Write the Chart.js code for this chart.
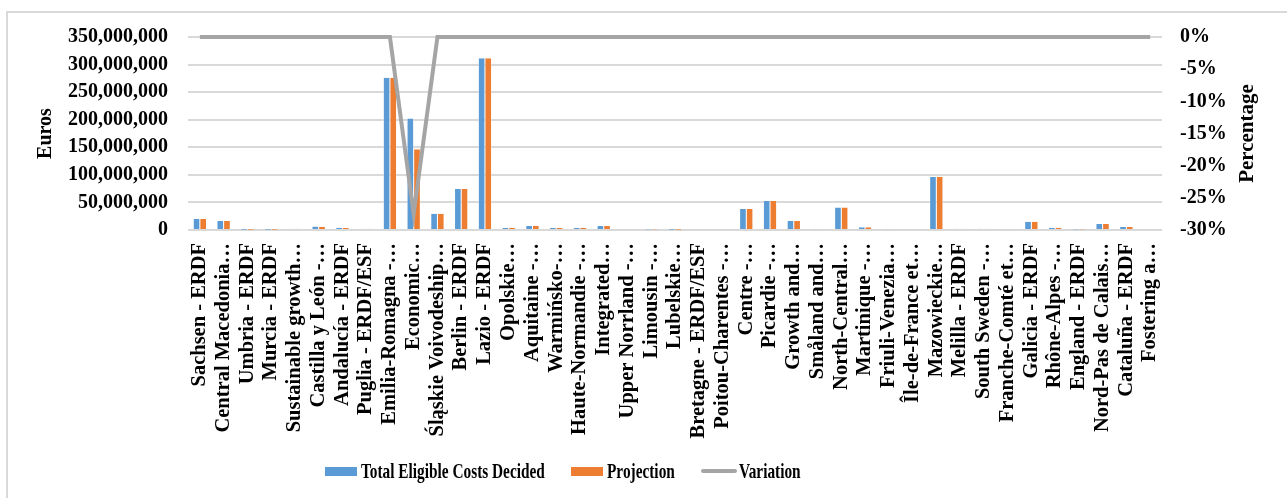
<!DOCTYPE html>
<html>
<head>
<meta charset="utf-8">
<title>Total Eligible Costs Decided vs Projection</title>
<script src="https://cdn.jsdelivr.net/npm/chart.js@4"></script>
<style>
  html, body { margin: 0; padding: 0; background: #fff; }
  #wrap { position: relative; width: 1287px; height: 498px; overflow: hidden; }
  #frame { position: absolute; left: 6px; top: 11px; width: 1300px; height: 520px; border: 2px solid #d9d9d9; box-sizing: border-box; }
  #box { position: absolute; left: 0; top: 0; width: 1287px; height: 498px; }
  #legend { position: absolute; left: 325px; top: 458px; height: 26px; display: flex; align-items: center;
            font-family: 'Liberation Serif', 'Times New Roman', serif; font-weight: bold; font-size: 21px; color: #000; }
  #legend .item { display: flex; align-items: center; margin-right: 26px; }
  #legend .swatch { width: 32px; height: 9px; margin-right: 4px; }
  #legend .swatch.line { width: 36px; height: 4px; border-radius: 2px; margin-right: 2px; }
  #legend .txt { display: inline-block; transform: scaleX(0.73); transform-origin: left center; white-space: nowrap; }
</style>
</head>
<body>
<div id="wrap">
  <div id="frame"></div>
  <div id="box"><canvas id="chartCanvas"></canvas></div>
  <div id="legend"></div>
</div>
<script>
// Operational programmes (labels as shown, truncated in the source chart)
const programmes = [
  "Sachsen - ERDF", "Central Macedonia\u2026", "Umbria - ERDF", "Murcia - ERDF",
  "Sustainable growth\u2026", "Castilla y León -\u2026", "Andalucía - ERDF", "Puglia - ERDF/ESF",
  "Emilia-Romagna -\u2026", "Economic\u2026", "Śląskie Voivodeship\u2026", "Berlin - ERDF",
  "Lazio - ERDF", "Opolskie\u2026", "Aquitaine -\u2026", "Warmińsko-\u2026",
  "Haute-Normandie -\u2026", "Integrated\u2026", "Upper Norrland -\u2026", "Limousin -\u2026",
  "Lubelskie\u2026", "Bretagne - ERDF/ESF", "Poitou-Charentes -\u2026", "Centre -\u2026",
  "Picardie -\u2026", "Growth and\u2026", "Småland and\u2026", "North-Central\u2026",
  "Martinique -\u2026", "Friuli-Venezia\u2026", "Île-de-France et\u2026", "Mazowieckie\u2026",
  "Melilla - ERDF", "South Sweden -\u2026", "Franche-Comté et\u2026", "Galicia - ERDF",
  "Rhône-Alpes -\u2026", "England - ERDF", "Nord-Pas de Calais\u2026", "Cataluña - ERDF",
  "Fostering a\u2026"
];

// Euros
const totalEligible = [
  20000000, 16500000, 300000, 600000, 2400000, 6500000, 3600000, 2400000,
  276000000, 202000000, 29600000, 74500000, 311500000, 3600000, 7200000, 3600000,
  3600000, 7200000, 0, 1000000, 500000, 0, 0, 38000000,
  52500000, 16300000, 1500000, 41000000, 4800000, 1500000, 0, 96000000,
  2400000, 2400000, 1500000, 15000000, 4000000, 1000000, 11000000, 5400000,
  0
];
const projection = [
  20000000, 16500000, 300000, 600000, 2400000, 6000000, 3600000, 2400000,
  276000000, 146500000, 29600000, 74500000, 311500000, 4000000, 7800000, 3600000,
  4000000, 7200000, 0, 1000000, 500000, 0, 0, 38000000,
  52500000, 16300000, 1500000, 41000000, 4800000, 1500000, 0, 96000000,
  2400000, 2400000, 1500000, 15000000, 4000000, 1000000, 11000000, 5400000,
  0
];
// Percentage change between the two
const variation = [
  0, 0, 0, 0, 0, 0, 0, 0, 0, -27.5, 0, 0, 0, 0, 0, 0, 0, 0, 0, 0, 0,
  0, 0, 0, 0, 0, 0, 0, 0, 0, 0, 0, 0, 0, 0, 0, 0, 0, 0, 0, 0
];

const BLUE = "#5B9BD5", ORANGE = "#ED7D31", GREY = "#A5A5A5", GRID = "#D9D9D9";
const FONT = "'Liberation Serif', 'Times New Roman', serif";

// right-hand axis title, reading bottom to top like the left one
const rightTitle = {
  id: "rightTitle",
  afterDraw(c) {
    const s = c.scales.yPct, ctx = c.ctx;
    ctx.save();
    ctx.translate(s.left + 86, (s.top + s.bottom) / 2);
    ctx.rotate(-Math.PI / 2);
    ctx.font = "bold 21px " + FONT;
    ctx.fillStyle = "#000";
    ctx.textAlign = "center";
    ctx.textBaseline = "middle";
    ctx.fillText("Percentage", 0, 0);
    ctx.restore();
  }
};

const chart = new Chart(document.getElementById("chartCanvas"), {
  data: {
    labels: programmes,
    datasets: [
      {
        type: "line", label: "Variation", data: variation, yAxisID: "yPct",
        borderColor: GREY, backgroundColor: GREY, borderWidth: 4,
        pointRadius: 0, tension: 0, clip: false, order: 0
      },
      {
        type: "bar", label: "Total Eligible Costs Decided", data: totalEligible, yAxisID: "y",
        backgroundColor: BLUE, borderColor: "#ffffff", borderWidth: { left: 0.5, right: 0.5 },
        barPercentage: 1, categoryPercentage: 0.56, order: 1
      },
      {
        type: "bar", label: "Projection", data: projection, yAxisID: "y",
        backgroundColor: ORANGE, borderColor: "#ffffff", borderWidth: { left: 0.5, right: 0.5 },
        barPercentage: 1, categoryPercentage: 0.56, order: 2
      }
    ]
  },
  options: {
    responsive: true,
    maintainAspectRatio: false,
    animation: false,
    layout: { padding: { top: 37, left: 34, right: 8, bottom: 40 } },
    scales: {
      x: {
        grid: { display: false },
        border: { display: false },
        ticks: {
          autoSkip: false, minRotation: 90, maxRotation: 90, padding: 5,
          color: "#000", font: { family: FONT, size: 20.5, weight: "bold" }
        },
        afterFit: s => { s.height = 228; }
      },
      y: {
        position: "left", min: 0, max: 350000000,
        ticks: {
          stepSize: 50000000, color: "#000", padding: 20,
          font: { family: FONT, size: 20, weight: "bold" },
          callback: v => v.toLocaleString("en-US")
        },
        grid: { color: GRID, lineWidth: 2, tickLength: 0 },
        border: { display: false },
        title: { display: true, text: "Euros", color: "#000", padding: 0,
                 font: { family: FONT, size: 20, weight: "bold" } },
        afterFit: s => { s.width = 154; }
      },
      yPct: {
        position: "right", min: -30, max: 0,
        ticks: {
          stepSize: 5, color: "#000", padding: 18,
          font: { family: FONT, size: 20, weight: "bold" },
          callback: v => v + "%"
        },
        grid: { drawOnChartArea: false, drawTicks: false, tickLength: 0 },
        border: { display: false },
        afterFit: s => { s.width = 117; }
      }
    },
    plugins: {
      legend: { display: false },
      tooltip: { enabled: false }
    }
  },
  plugins: [rightTitle]
});

// HTML legend in the order of the original: bars first, then the line
const legendEl = document.getElementById("legend");
[1, 2, 0].forEach(i => {
  const ds = chart.data.datasets[i];
  const item = document.createElement("div");
  item.className = "item";
  const sw = document.createElement("span");
  sw.className = "swatch" + (ds.type === "line" ? " line" : "");
  sw.style.background = ds.backgroundColor;
  const tx = document.createElement("span");
  tx.className = "txt";
  tx.textContent = ds.label;
  item.appendChild(sw);
  item.appendChild(tx);
  legendEl.appendChild(item);
  // pull the condensed text's layout box in to its visible width
  tx.style.marginRight = -(tx.offsetWidth * 0.27) + "px";
});
</script>
</body>
</html>
